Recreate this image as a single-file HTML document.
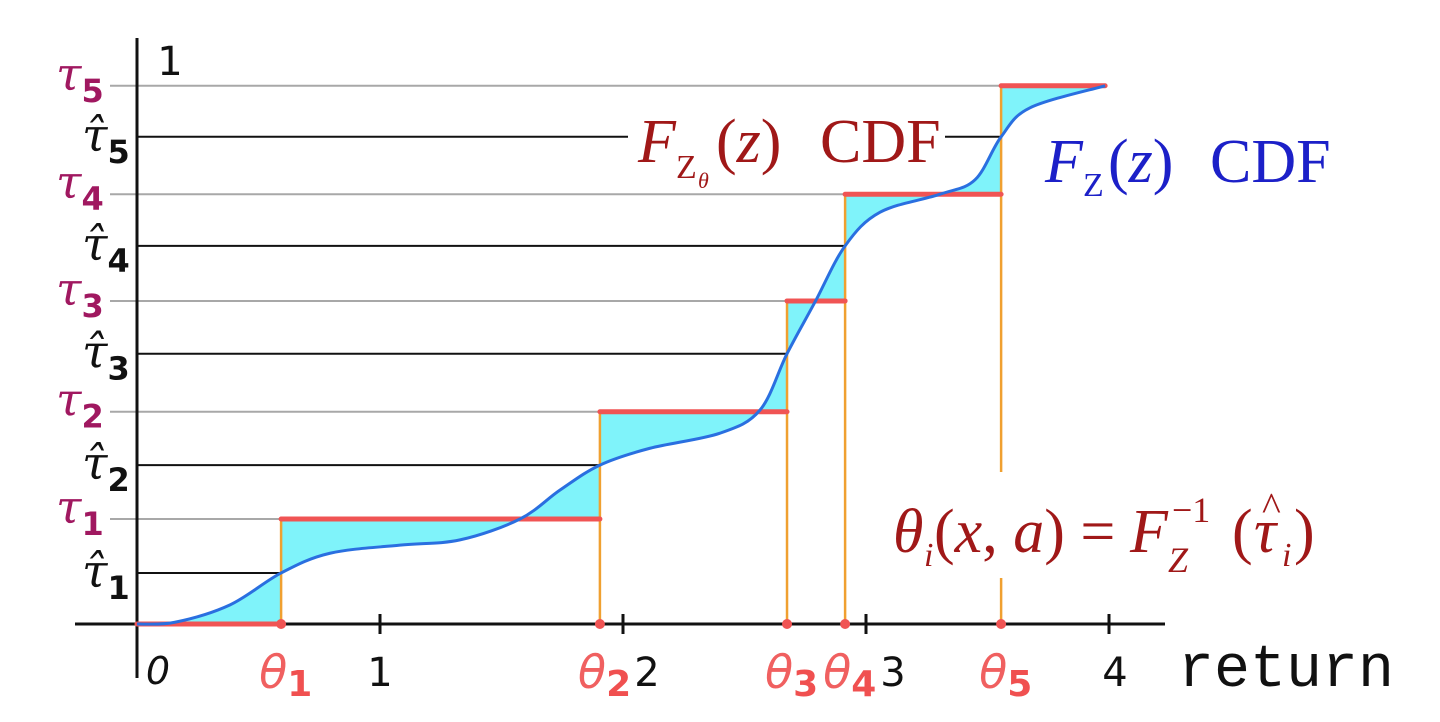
<!DOCTYPE html>
<html><head><meta charset="utf-8"><style>
html,body{margin:0;padding:0;background:#fff;}
svg{display:block;}
</style></head><body>
<svg id="chart" width="1440" height="722" viewBox="0 0 1440 722" xmlns="http://www.w3.org/2000/svg">
<g id="layer"></g>
</svg>
<script>
// ---- data ----
const curveX = [0,0.156,0.383,0.593,0.794,1.082,1.329,1.576,1.741,1.905,2.111,2.399,2.564,2.675,2.790,2.914,3.058,3.305,3.449,3.556,3.675,3.984];
const curveY = [0,0.003,0.033,0.088,0.122,0.136,0.145,0.181,0.231,0.274,0.303,0.329,0.369,0.466,0.555,0.652,0.710,0.741,0.766,0.840,0.890,0.928];
const thetas = [0.593,1.905,2.675,2.914,3.556];
const tauLevels = [0.181,0.366,0.557,0.741,0.928];
const tauHatLevels = [0.088,0.274,0.466,0.652,0.840];
const xTicks = [1,2,3,4];
const xTickLabels = ['1','2','3','4'];
const xEnd = 3.984;

// ---- axes ----
const X0 = 137, XS = 243, Y0 = 624, YS = 580;
const sx = v => X0 + v*XS;
const sy = v => Y0 - v*YS;

const NS = 'http://www.w3.org/2000/svg';
const layer = document.getElementById('layer');
function mk(tag, attrs, parent){
  const e = document.createElementNS(NS, tag);
  for (const k in attrs) e.setAttribute(k, attrs[k]);
  (parent||layer).appendChild(e);
  return e;
}
function txt(x,y,s,style,name){
  const t = mk('text',{x:x,y:y,style:style});
  t.textContent = s;
  
  
  return t;
}

const pts = curveX.map((x,i)=>[sx(x), sy(curveY[i])]);
function smooth(p){
  let d = 'M'+p[0][0]+','+p[0][1];
  for (let i=0;i<p.length-1;i++){
    const p0=p[Math.max(0,i-1)], p1=p[i], p2=p[i+1], p3=p[Math.min(p.length-1,i+2)];
    const c1=[p1[0]+(p2[0]-p0[0])/6, p1[1]+(p2[1]-p0[1])/6];
    const c2=[p2[0]-(p3[0]-p1[0])/6, p2[1]-(p3[1]-p1[1])/6];
    d += ' C'+c1[0]+','+c1[1]+' '+c2[0]+','+c2[1]+' '+p2[0]+','+p2[1];
  }
  return d;
}
const curveD = smooth(pts);

const step = [[sx(0),sy(0)]];
thetas.forEach((t,i)=>{
  const prev = i===0?0:tauLevels[i-1];
  step.push([sx(t),sy(prev)]);
  step.push([sx(t),sy(tauLevels[i])]);
});
step.push([sx(xEnd),sy(tauLevels[tauLevels.length-1])]);

let fillD = curveD;
for (let i=step.length-1;i>=0;i--) fillD += ' L'+step[i][0]+','+step[i][1];
fillD += ' Z';
const fill = mk('path',{d:fillD,fill:'#7ff3fa',stroke:'none','fill-rule':'nonzero'});



tauLevels.forEach((v,i)=>{
  const l = mk('line',{x1:110,y1:sy(v),x2:sx(thetas[i]),y2:sy(v),stroke:'#a8a8a8','stroke-width':2});
  
  
});
tauHatLevels.forEach((v,i)=>{
  if (i===4){
    const a = mk('line',{x1:X0,y1:sy(v),x2:628,y2:sy(v),stroke:'#111','stroke-width':2});
    
    
    const b = mk('line',{x1:945,y1:sy(v),x2:sx(thetas[i]),y2:sy(v),stroke:'#111','stroke-width':2});
    
    
  } else {
    const l = mk('line',{x1:X0,y1:sy(v),x2:sx(thetas[i]),y2:sy(v),stroke:'#111','stroke-width':2});
    
    
  }
});

thetas.forEach((t,i)=>{
  if (i===4){
    const a = mk('line',{x1:sx(t),y1:sy(tauLevels[i]),x2:sx(t),y2:472,stroke:'#f0a030','stroke-width':2.5});
    
    
    const b = mk('line',{x1:sx(t),y1:578,x2:sx(t),y2:Y0,stroke:'#f0a030','stroke-width':2.5});
    
    
  } else {
    const l = mk('line',{x1:sx(t),y1:sy(tauLevels[i]),x2:sx(t),y2:Y0,stroke:'#f0a030','stroke-width':2.5});
    
    
  }
});

const xa = mk('line',{x1:75,y1:Y0,x2:1165,y2:Y0,stroke:'#111','stroke-width':3});


const ya = mk('line',{x1:X0,y1:38,x2:X0,y2:678,stroke:'#111','stroke-width':3});


xTicks.forEach((v,i)=>{
  const t = mk('line',{x1:sx(v),y1:Y0-10,x2:sx(v),y2:Y0+10,stroke:'#111','stroke-width':3});
  
  
  txt(sx(v)+(i===1?24:i===2?27:i===3?6:0), 686, xTickLabels[i], 'font:40px "DejaVu Sans",sans-serif;fill:#111;text-anchor:middle', 'x-tick-label-'+v);
});
txt(158,684,'0','font:italic 38px "DejaVu Sans",sans-serif;fill:#111;text-anchor:middle','x-origin-label');
txt(170,75,'1','font:40px "DejaVu Sans",sans-serif;fill:#111;text-anchor:middle','y-top-label');

const redSegs = [[0,thetas[0],0]];
thetas.forEach((t,i)=>{ redSegs.push([t, i<4?thetas[i+1]:xEnd, tauLevels[i]]); });
redSegs.forEach((s,i)=>{
  const l = mk('line',{x1:sx(s[0]),y1:sy(s[2]),x2:sx(s[1]),y2:sy(s[2]),stroke:'#f05454','stroke-width':5,'stroke-linecap':'round'});
  
  
});

const cv = mk('path',{d:curveD,fill:'none',stroke:'#2a6fe0','stroke-width':3});



thetas.forEach((t,i)=>{
  const c = mk('circle',{cx:sx(t),cy:Y0,r:5,fill:'#f05454'});
  
  
  const g = mk('text',{x:sx(t)-22,y:688,style:'font:italic 46px "DejaVu Sans",sans-serif;fill:#f06060'});
  
  
  g.textContent = 'θ';
  const sb = mk('tspan',{dy:8,style:'font:bold 36px "DejaVu Sans",sans-serif;fill:#f05050'},g);
  sb.textContent = String(i+1);
});

tauLevels.forEach((v,i)=>{
  const g = mk('text',{x:56,y:sy(v)+4,style:'font:italic 46px "DejaVu Serif",serif;fill:#a01860'});
  
  
  g.textContent = 'τ';
  const sb = mk('tspan',{dy:12,style:'font:bold 32px "DejaVu Sans",sans-serif'},g);
  sb.textContent = String(i+1);
});
tauHatLevels.forEach((v,i)=>{
  const g = mk('text',{x:82,y:sy(v)+14,style:'font:italic 46px "DejaVu Serif",serif;fill:#111'});
  
  
  g.textContent = 'τ̂';
  const sb = mk('tspan',{dy:12,style:'font:bold 32px "DejaVu Sans",sans-serif'},g);
  sb.textContent = String(i+1);
});
</script>
<svg style="position:absolute;left:0;top:0" width="1440" height="722">
<g style="font-family:'Liberation Serif',serif;fill:#a01818">
<text x="638" y="162" font-size="62" font-style="italic">F</text>
<text x="676" y="178" font-size="34">Z</text>
<text x="698" y="188" font-size="22" font-style="italic">θ</text>
<text x="716" y="162" font-size="62">(<tspan font-style="italic">z</tspan>)</text>
<text x="820" y="162" font-size="62">CDF</text>
</g>
<g style="font-family:'Liberation Serif',serif;fill:#1c20c8">
<text x="1045" y="182" font-size="62" font-style="italic">F</text>
<text x="1083" y="196" font-size="34">Z</text>
<text x="1108" y="182" font-size="62">(<tspan font-style="italic">z</tspan>)</text>
<text x="1210" y="182" font-size="62">CDF</text>
</g>
<g style="font-family:'Liberation Serif',serif;fill:#a01818">
<text x="893" y="552" font-size="62" font-style="italic">θ</text>
<text x="924" y="566" font-size="34" font-style="italic">i</text>
<text x="934" y="552" font-size="62">(<tspan font-style="italic">x</tspan>, <tspan font-style="italic">a</tspan>) = </text>
<text x="1130" y="552" font-size="62" font-style="italic">F</text>
<text x="1172" y="522" font-size="36">−1</text>
<text x="1168" y="572" font-size="36" font-style="italic">Z</text>
<text x="1232" y="552" font-size="62">(</text>
<text x="1254" y="552" font-size="62" font-style="italic">τ</text>
<text x="1262" y="520" font-size="40">^</text>
<text x="1282" y="566" font-size="34" font-style="italic">i</text>
<text x="1294" y="552" font-size="62">)</text>
</g>
<text x="1178" y="686" style="font:60px 'Liberation Mono',monospace;fill:#111">return</text>
</svg>
</body></html>
